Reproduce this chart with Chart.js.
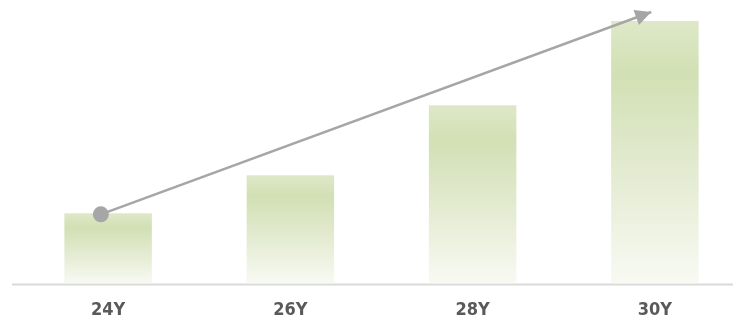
<!DOCTYPE html>
<html>
<head>
<meta charset="utf-8">
<script src="https://cdn.jsdelivr.net/npm/chart.js@4"></script>
<style>
    html, body { margin: 0; padding: 0; background: #fff; overflow: hidden; }
    canvas { display: block; }
</style>
</head>
<body>
<canvas id="ageChart" width="746" height="320"></canvas>
<script>
// Chart data
const categories = ['24Y', '26Y', '28Y', '30Y'];
const barValues = [70, 108, 178, 262];
// Trend arrow: start / end positions in category units and values
const trendX = [-0.04, 2.98];
const trendY = [69, 271];

const axisColor = '#d9d9d9';
const arrowColor = '#a6a6a6';

function barGradient(context) {
    const chart = context.chart;
    const area = chart.chartArea;
    const yScale = chart.scales.y;
    if (!area || !yScale) return '#d6e3bd';
    const top = yScale.getPixelForValue(context.raw);
    const bottom = yScale.getPixelForValue(0);
    const g = chart.ctx.createLinearGradient(0, top, 0, bottom);
    g.addColorStop(0, '#dee8c8');
    g.addColorStop(0.2, '#d2e0b4');
    g.addColorStop(0.55, '#e2eacf');
    g.addColorStop(1, '#f8faf3');
    return g;
}

// baseline across the full width + arrowhead on the trend line
const decorPlugin = {
    id: 'decor',
    beforeDatasetsDraw(chart) {
        const ctx = chart.ctx;
        const y = chart.scales.y.getPixelForValue(0) + 1;
        ctx.save();
        ctx.strokeStyle = axisColor;
        ctx.lineWidth = 2;
        ctx.beginPath();
        ctx.moveTo(chart.chartArea.left - 5, y);
        ctx.lineTo(chart.width, y);
        ctx.stroke();
        ctx.restore();
    },
    afterDatasetsDraw(chart) {
        const meta = chart.getDatasetMeta(1);
        const pts = meta.data;
        if (pts.length < 2) return;
        const a = pts[pts.length - 2], b = pts[pts.length - 1];
        const ang = Math.atan2(b.y - a.y, b.x - a.x);
        const len = 16, half = 8;
        const ctx = chart.ctx;
        ctx.save();
        ctx.translate(b.x, b.y);
        ctx.rotate(ang);
        ctx.fillStyle = arrowColor;
        ctx.beginPath();
        ctx.moveTo(0, 0);
        ctx.lineTo(-len, -half);
        ctx.lineTo(-len, half);
        ctx.closePath();
        ctx.fill();
        ctx.restore();
    }
};

new Chart(document.getElementById('ageChart'), {
    data: {
        labels: categories,
        datasets: [{
            type: 'bar',
            data: barValues,
            backgroundColor: barGradient,
            borderWidth: 0,
            grouped: false,
            barPercentage: 0.48,
            categoryPercentage: 1,
            order: 2
        }, {
            type: 'line',
            xAxisID: 'x2',
            data: trendX.map((x, i) => ({ x: x, y: trendY[i] })),
            borderColor: arrowColor,
            borderWidth: 2.5,
            pointRadius: [8, 0],
            pointBackgroundColor: arrowColor,
            pointBorderWidth: 0,
            clip: false,
            order: 1
        }]
    },
    options: {
        responsive: false,
        animation: false,
        layout: { autoPadding: false, padding: { left: 17, right: 0, top: 0, bottom: -17 } },
        plugins: { legend: { display: false }, tooltip: { enabled: false } },
        scales: {
            x: {
                grid: { display: false, drawTicks: false },
                border: { display: false },
                ticks: {
                    color: '#595959',
                    padding: 16,
                    font: { family: 'DejaVu Sans Condensed', size: 18, weight: 'bold' }
                }
            },
            x2: {
                type: 'linear',
                display: false,
                min: -0.5,
                max: 3.5
            },
            y: {
                display: false,
                min: 0,
                max: 283
            }
        }
    },
    plugins: [decorPlugin]
});
</script>
</body>
</html>
